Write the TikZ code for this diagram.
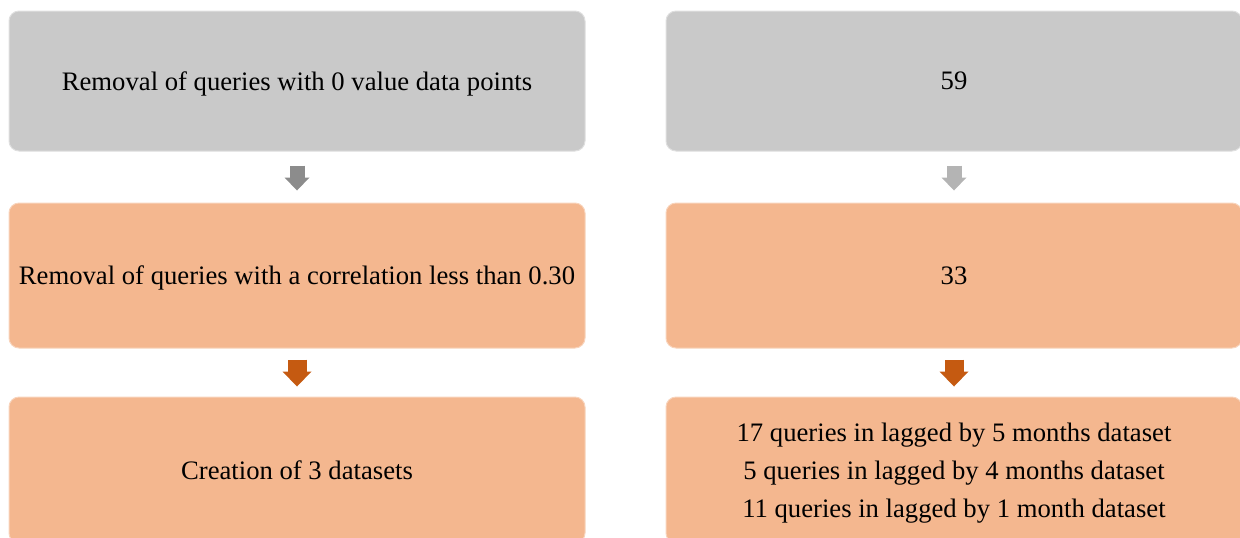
\documentclass[tikz,border=0pt]{standalone}
\usepackage{fontspec}
\setmainfont{Liberation Serif}
\usepackage{tikz}
\usetikzlibrary{positioning,arrows.meta}
\definecolor{boxgray}{RGB}{201,201,201}
\definecolor{boxorange}{RGB}{244,183,143}
\definecolor{arrgray}{RGB}{140,140,140}
\definecolor{arrlgray}{RGB}{180,180,180}
\definecolor{arrorange}{RGB}{197,90,17}
\tikzset{
    stage/.style={
        rectangle,
        rounded corners=7.5pt,
        minimum width=432pt,
        inner sep=4pt,
        align=center,
        text depth=0pt,
        line width=0.75pt,
        font=\fontsize{20}{28.5}\selectfont
    },
    gstage/.style={stage, fill=boxgray, draw=boxgray!60!white, minimum height=105pt},
    ostage/.style={stage, fill=boxorange, draw=boxorange!60!white},
    garr/.style={-{Triangle[length=9.75pt,width=18.75pt,line width=0pt]},
        line width=11.25pt, arrgray, shorten <=10.5pt, shorten >=9pt},
    % lighter arrow on the count side
    glarr/.style={garr, arrlgray},
    oarr/.style={-{Triangle[length=11.25pt,width=21.75pt,line width=0pt]},
        line width=14.25pt, arrorange, shorten <=8.25pt, shorten >=7.5pt}
}
\begin{document}
\begin{tikzpicture}[x=0.75pt,y=-0.75pt]
\useasboundingbox (0,0) rectangle (1240,537);

% steps
\node[gstage] (rmzero) at (297,81) {Removal of queries with 0 value data points};
\node[ostage, minimum height=108.75pt] (rmcorr) at (297,275.5) {Removal of queries with a correlation less than 0.30};
\node[ostage, minimum height=109.5pt] (mkdata) at (297,470) {Creation of 3 datasets};

% counts
\node[gstage] (nzero) at (954,81) {59};
\node[ostage, minimum height=108.75pt] (ncorr) at (954,275.5) {33};
\node[ostage, minimum height=109.5pt] (ndata) at (954,470) {17 queries in lagged by 5 months dataset\\
5 queries in lagged by 4 months dataset\\
11 queries in lagged by 1 month dataset};

\draw[garr] (rmzero) -- (rmcorr);
\draw[oarr] (rmcorr) -- (mkdata);
\draw[glarr] (nzero) -- (ncorr);
\draw[oarr] (ncorr) -- (ndata);
\end{tikzpicture}
\end{document}
